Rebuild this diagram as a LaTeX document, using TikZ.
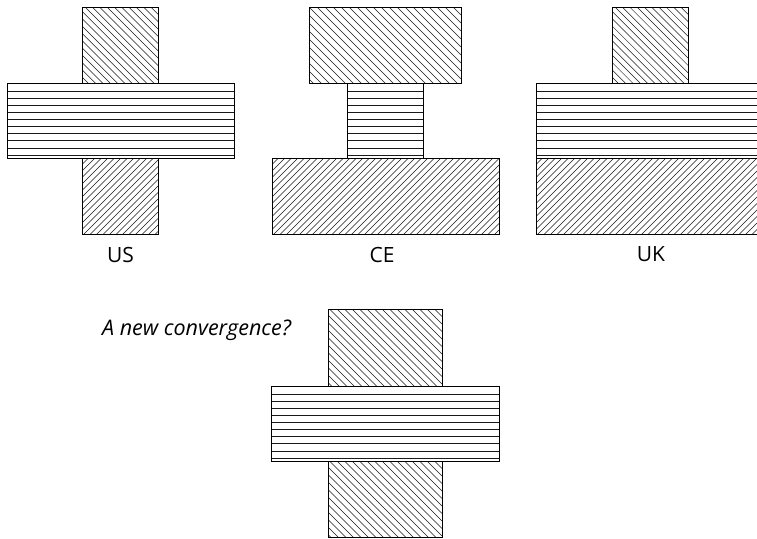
\documentclass[tikz,border=0pt]{standalone}
\usepackage{fontspec}
\setmainfont{Open Sans}
\begin{document}
\begin{tikzpicture}[x=1pt,y=-1pt,
  box/.style={draw=black,line width=0.8pt},
  hatch/.style={draw=black!90,line width=0.5pt},
  lbl/.style={font=\fontsize{21}{24}\selectfont,inner sep=0pt,anchor=center},
  note/.style={font=\fontsize{21.5}{24}\selectfont\itshape,inner sep=0pt,anchor=base west}]
\newcommand\hatchnw[5]{%
  \begin{scope}
    \clip (#1,#2) rectangle (#3,#4);
    \pgfmathsetmacro\cstart{#2-#3}%
    \pgfmathsetmacro\cnext{#2-#3+#5}%
    \pgfmathsetmacro\cend{#4-#1}%
    \foreach \cc in {\cstart,\cnext,...,\cend}
      \draw[hatch] (#1,{#1+\cc}) -- (#3,{#3+\cc});
  \end{scope}
  \draw[box] (#1,#2) rectangle (#3,#4);}
\newcommand\hatchne[5]{%
  \begin{scope}
    \clip (#1,#2) rectangle (#3,#4);
    \pgfmathsetmacro\cstart{#1+#2}%
    \pgfmathsetmacro\cnext{#1+#2+#5}%
    \pgfmathsetmacro\cend{#3+#4}%
    \foreach \cc in {\cstart,\cnext,...,\cend}
      \draw[hatch] (#1,{\cc-#1}) -- (#3,{\cc-#3});
  \end{scope}
  \draw[box] (#1,#2) rectangle (#3,#4);}
\newcommand\hlinesbox[4]{%
  \foreach \k in {0,...,9}
    \draw[hatch] (#1,{#2+8+7.1*\k}) -- (#3,{#2+8+7.1*\k});
  \draw[box] (#1,#2) rectangle (#3,#4);}
\clip (0,0) rectangle (757,538);
% US
\hlinesbox{7}{83}{234}{158}
\hatchnw{82}{7}{158}{83}{7.3}
\hatchne{82}{158}{158}{234}{6.5}
\node[lbl] (us) at (120.5,254.5) {US};
% CE
\hatchnw{309}{7}{461}{83}{8}
\hlinesbox{347}{83}{423}{158}
\hatchne{272}{158}{499}{234}{6.5}
\node[lbl] (ce) at (382,254.5) {CE};
% UK
\hatchnw{612}{7}{688}{83}{7.3}
\hlinesbox{536}{83}{770}{158}
\hatchne{536}{158}{770}{234}{6.5}
\node[lbl] (uk) at (651,254.5) {UK};
% convergence
\hatchnw{328}{309}{442}{386}{7.5}
\hlinesbox{271}{386}{499}{461}
\hatchnw{328}{461}{442}{537}{7.5}
\node[note] (conv) at (102,335) {A new convergence?};
\end{tikzpicture}
\end{document}
